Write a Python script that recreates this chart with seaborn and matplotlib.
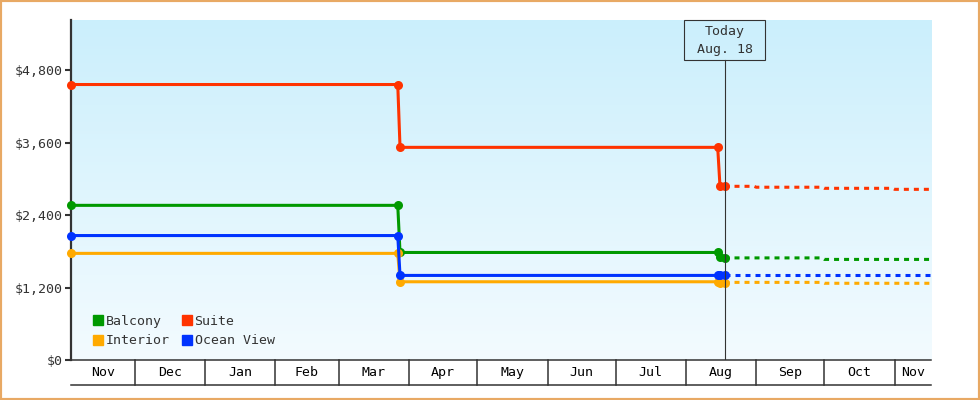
import numpy as np
import pandas as pd
import seaborn as sns
import matplotlib.pyplot as plt
import matplotlib.dates as mdates
from matplotlib.colors import LinearSegmentedColormap
from matplotlib.lines import Line2D
from matplotlib.patches import Rectangle
from matplotlib.ticker import FuncFormatter

# cabin categories and colours
cabins = ["Balcony", "Suite", "Interior", "Ocean View"]
colors = ["#009900", "#ff3300", "#ffaa00", "#0033ff"]

# price history (solid part, with markers)
hist_dates = ["2022-11-03", "2023-03-27", "2023-03-28", "2023-08-15", "2023-08-16", "2023-08-18"]
hist_balcony = [2560, 2560, 1780, 1780, 1710, 1690]
hist_suite = [4560, 4560, 3520, 3520, 2880, 2880]
hist_interior = [1765, 1765, 1295, 1295, 1280, 1280]
hist_ocean = [2060, 2060, 1400, 1400, 1400, 1400]

# projected prices (dashed part)
fc_dates = ["2023-08-18", "2023-08-31", "2023-09-01", "2023-09-30",
            "2023-10-01", "2023-10-31", "2023-11-01", "2023-11-17"]
fc_balcony = [1690, 1690, 1690, 1690, 1665, 1665, 1665, 1665]
fc_suite = [2875, 2875, 2860, 2860, 2842, 2842, 2825, 2825]
fc_interior = [1285, 1285, 1285, 1285, 1270, 1270, 1270, 1270]
fc_ocean = [1405, 1405, 1405, 1405, 1405, 1405, 1405, 1405]

y_ticks = [0, 1200, 2400, 3600, 4800]
today = "2023-08-18"
x_start, x_end = "2022-11-03", "2023-11-17"

plt.rcParams['font.family'] = ['DejaVu Sans Mono']
plt.rcParams['lines.scale_dashes'] = False
ink = "#333333"


def long_frame(dates, series):
    parts = []
    for cabin, vals in zip(cabins, series):
        parts.append(pd.DataFrame({"date": pd.to_datetime(dates), "cabin": cabin, "price": vals}))
    return pd.concat(parts, ignore_index=True)


hist_df = long_frame(hist_dates, [hist_balcony, hist_suite, hist_interior, hist_ocean])
fc_df = long_frame(fc_dates, [fc_balcony, fc_suite, fc_interior, fc_ocean])
palette = dict(zip(cabins, colors))

fig = plt.figure(figsize=(9.8, 4.0), dpi=100)
ax = fig.add_axes([71 / 980, 40 / 400, 860 / 980, 340 / 400])

# background gradient
cmap = LinearSegmentedColormap.from_list("bg", ["#cbeffc", "#f3fbff"])
ax.imshow(np.linspace(0, 1, 256).reshape(-1, 1), cmap=cmap, aspect="auto",
          extent=[0, 1, 0, 1], transform=ax.transAxes, zorder=0)

sns.lineplot(data=fc_df, x="date", y="price", hue="cabin", hue_order=cabins, palette=palette,
             estimator=None, sort=False, lw=2.2, legend=False, ax=ax, zorder=2)
for line in ax.lines:
    line.set_dashes([3.6, 3.6])

sns.lineplot(data=hist_df, x="date", y="price", hue="cabin", hue_order=cabins, palette=palette,
             estimator=None, sort=False, lw=2.2, marker="o", markersize=6.5, markeredgewidth=0,
             legend=False, ax=ax, zorder=3)
for line in ax.lines:
    line.set_clip_on(False)

t0, t1 = mdates.date2num(pd.Timestamp(x_start)), mdates.date2num(pd.Timestamp(x_end))
ax.set_xlim(t0, t1)
ax.set_ylim(0, 5628)

# axes styling
for s in ["top", "right"]:
    ax.spines[s].set_visible(False)
ax.spines["left"].set_color(ink)
ax.spines["left"].set_linewidth(1.6)
ax.spines["bottom"].set_color(ink)
ax.spines["bottom"].set_linewidth(1.1)
ax.set_yticks(y_ticks)
ax.yaxis.set_major_formatter(FuncFormatter(lambda v, p: "${:,.0f}".format(v)))
ax.tick_params(axis="y", length=4.3, width=1.5, colors=ink, labelsize=9.5, pad=2)
ax.tick_params(axis="x", bottom=False, labelbottom=False)
ax.set_xlabel("")
ax.set_ylabel("")

# month band under the axis
xt = ax.get_xaxis_transform()
band = -25 / 340
ax.add_line(Line2D([t0, t1], [band, band], transform=xt, color=ink, lw=1.1, clip_on=False))
starts = pd.date_range("2022-11-01", "2023-12-01", freq="MS")
for a, b in zip(starts[:-1], starts[1:]):
    a_n, b_n = mdates.date2num(a), mdates.date2num(b)
    if a_n > t0:
        ax.add_line(Line2D([a_n, a_n], [0, band], transform=xt, color=ink, lw=1.1, clip_on=False))
    mid = (max(a_n, t0) + min(b_n, t1)) / 2
    ax.text(mid, band / 2, a.strftime("%b"), transform=xt, ha="center", va="center",
            fontsize=9.5, color="black")

# today marker
tn = mdates.date2num(pd.Timestamp(today))
ax.add_line(Line2D([tn, tn], [0, 0.881], transform=xt, color=ink, lw=0.8, zorder=4))
ax.add_patch(Rectangle((tn - 17.7, 0.881), 35.4, 0.119, transform=xt, fill=False,
                       ec=ink, lw=0.8, clip_on=False, zorder=4))
ax.text(tn, (360 - 32) / 340, "Today", transform=xt, ha="center", va="center", fontsize=9.5, color=ink)
ax.text(tn, (360 - 50) / 340, "Aug. 18", transform=xt, ha="center", va="center", fontsize=9.5, color=ink)

# legend
order = [0, 2, 1, 3]
handles = [Line2D([], [], marker="s", ls="none", color=colors[i], markersize=7.5) for i in order]
ax.legend(handles, [cabins[i] for i in order], ncol=2, loc="lower left",
          bbox_to_anchor=(0.0256, 0.037), frameon=False, borderpad=0, borderaxespad=0,
          handlelength=0.8, handletextpad=0.2, columnspacing=0.85, labelspacing=0.5,
          fontsize=9.5, labelcolor=ink)

fig.add_artist(Rectangle((0, 0), 1, 1, transform=fig.transFigure, fill=False,
                         ec="#e8a964", lw=3))

fig.savefig("out.png", dpi=100)
